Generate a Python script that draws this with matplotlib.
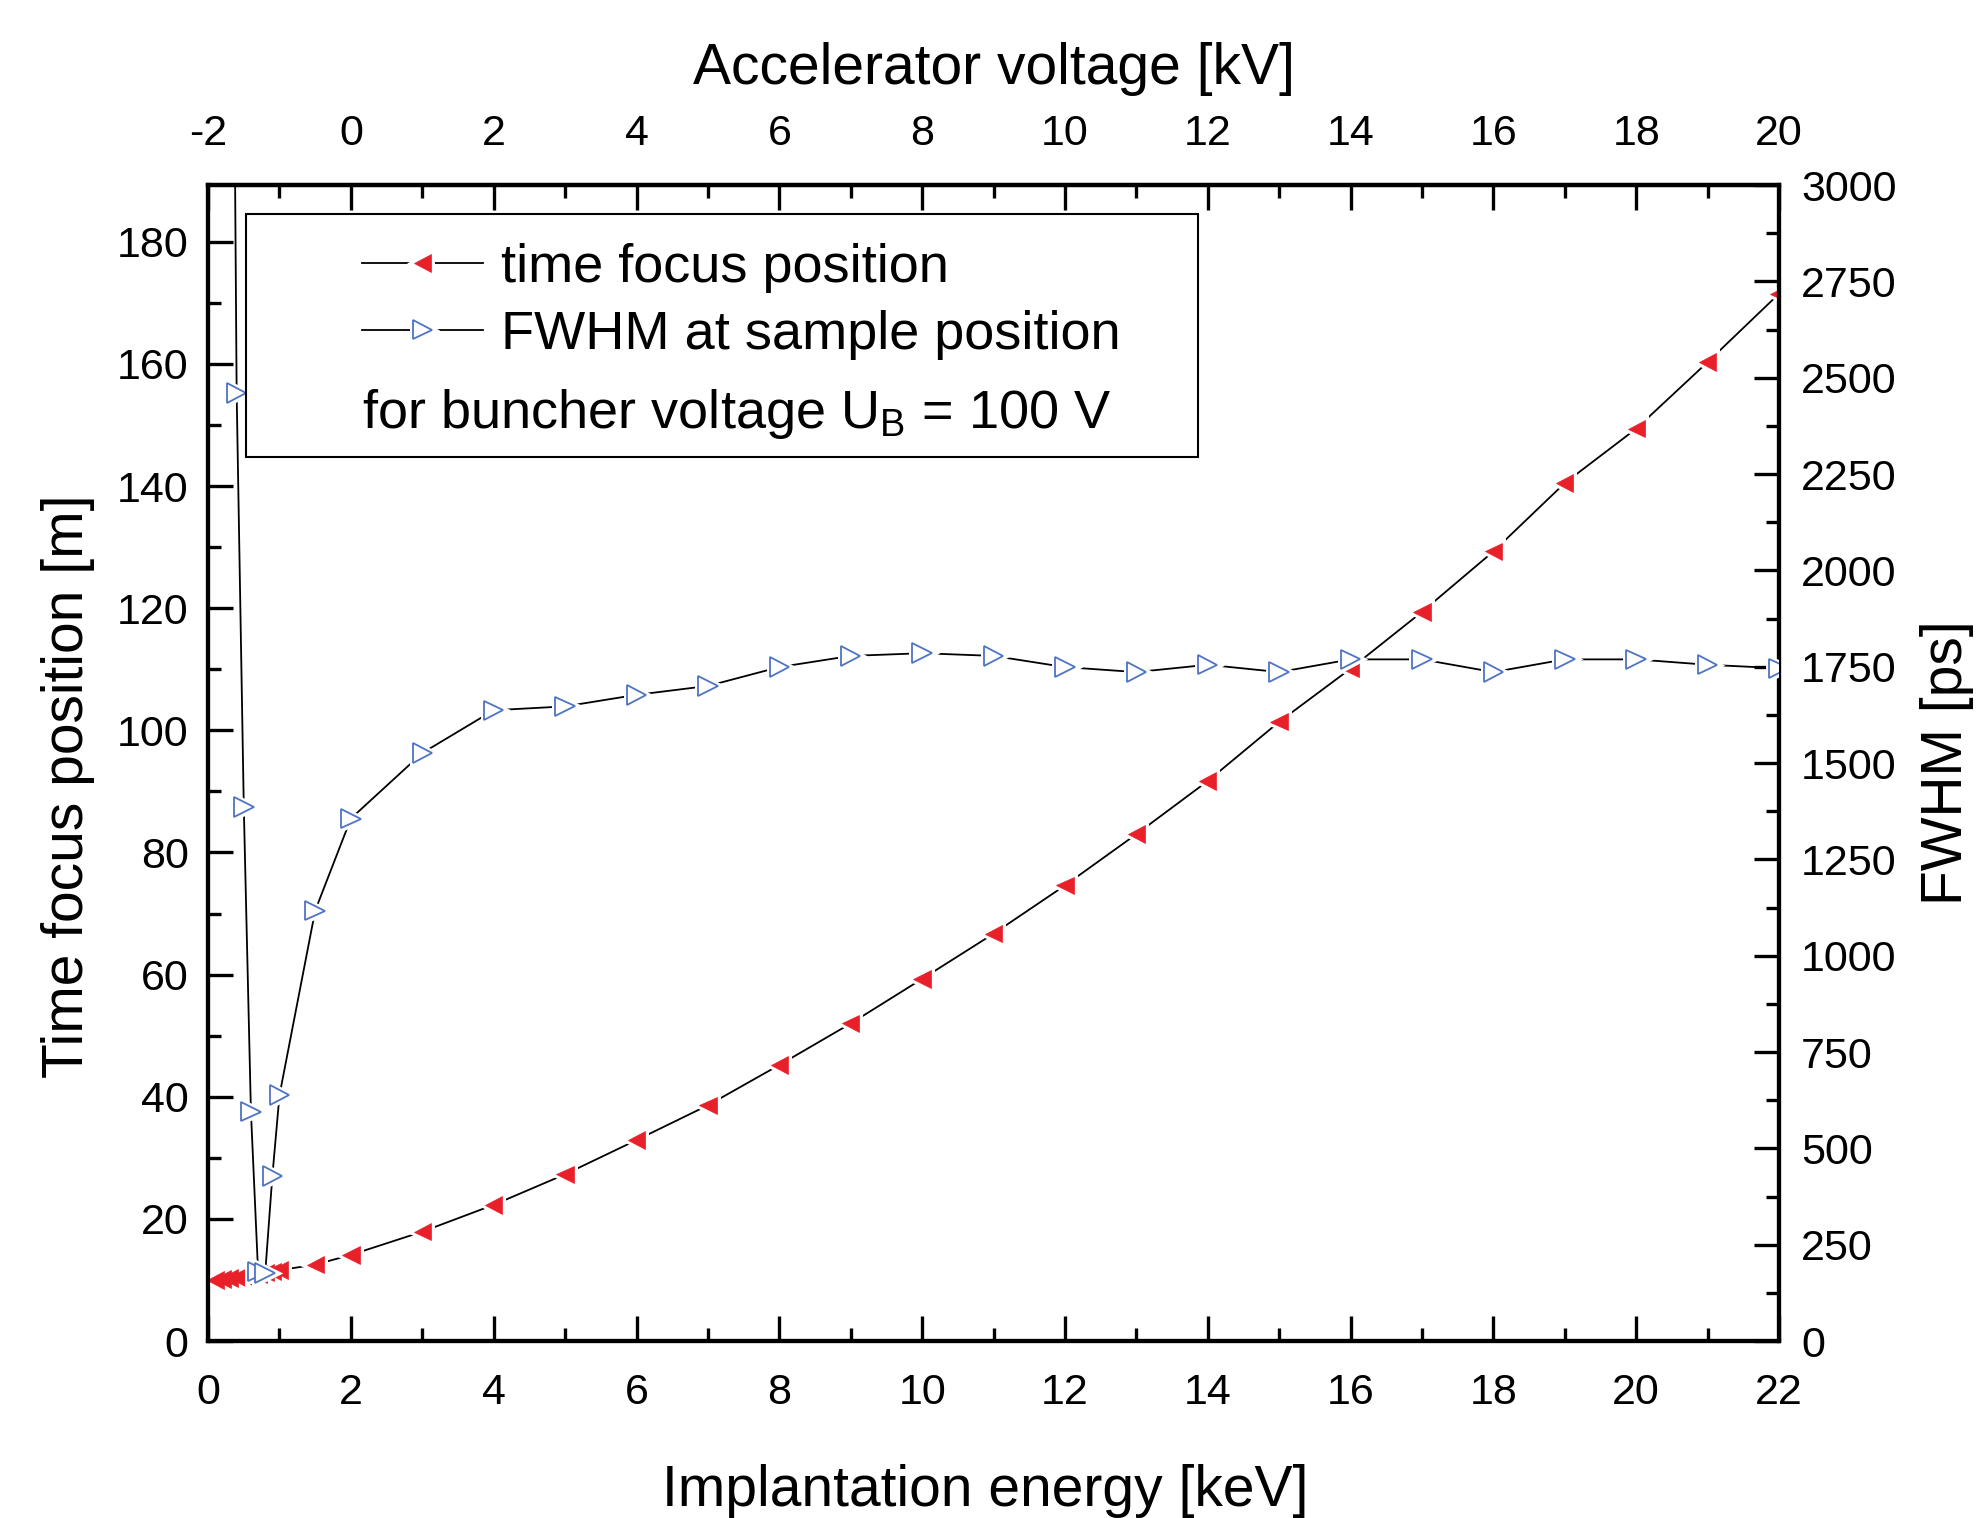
import matplotlib
matplotlib.use("Agg")
import matplotlib.pyplot as plt
from matplotlib.ticker import MultipleLocator
from matplotlib.patches import Rectangle
from matplotlib.legend_handler import HandlerTuple
import matplotlib.patheffects as pe

# ---------------- data ----------------
energy_tf = [0.1, 0.2, 0.3, 0.4, 0.5, 0.6, 0.7, 0.8, 0.9, 1.0, 1.5, 2, 3, 4, 5, 6, 7, 8,
             9, 10, 11, 12, 13, 14, 15, 16, 17, 18, 19, 20, 21, 22]
time_focus = [10.0, 10.15, 10.3, 10.45, 10.6, 10.8, 11.0, 11.2, 11.4, 11.6, 12.5, 14.1,
              17.9, 22.3, 27.3, 32.9, 38.6, 45.2, 52.0, 59.3, 66.7, 74.6, 83.0, 91.7,
              101.4, 110.1, 119.4, 129.3, 140.5, 149.4, 160.3, 171.5]

energy_fw = [0.3, 0.4, 0.5, 0.6, 0.7, 0.8, 0.9, 1.0, 1.5, 2, 3, 4, 5, 6, 7, 8, 9, 10,
             11, 12, 13, 14, 15, 16, 17, 18, 19, 20, 21, 22]
fwhm = [5000, 2460, 1386, 595, 180, 176, 428, 638, 1117, 1356, 1526, 1637, 1647, 1677,
        1700, 1749, 1778, 1785, 1778, 1749, 1736, 1755, 1736, 1769, 1769, 1736, 1769,
        1769, 1755, 1746]

xlabel = "Implantation energy [keV]"
toplabel = "Accelerator voltage [kV]"
ylabel_left = "Time focus position [m]"
ylabel_right = "FWHM [ps]"
legend_labels = ["time focus position", "FWHM at sample position"]
note = "for buncher voltage U$_\\mathrm{B}$ = 100 V"

# ---------------- style ----------------
plt.rcParams['font.family'] = ['Liberation Sans', 'DejaVu Sans']
plt.rcParams['mathtext.fontset'] = 'custom'
plt.rcParams['mathtext.rm'] = 'Liberation Sans'
plt.rcParams['mathtext.it'] = 'Liberation Sans:italic'
plt.rcParams['axes.unicode_minus'] = False

RED = '#e8202a'
BLUE = '#4f74c4'
TICK_FS = 31
LABEL_FS = 41
LEG_FS = 39
halo = [pe.Stroke(linewidth=5, foreground='white'), pe.Normal()]

fig = plt.figure(figsize=(19.78, 15.18), dpi=100)
ax = fig.add_axes([0.1052, 0.1166, 0.7942, 0.7615])

tf_line, = ax.plot(energy_tf, time_focus, color='black', lw=1.3, zorder=3)
tf_mark, = ax.plot(energy_tf, time_focus, ls='none', marker='<', ms=12.5,
                   mfc=RED, mec=RED, mew=0.5, zorder=4, path_effects=halo)
ax.set_xlim(0, 22)
ax.set_ylim(0, 189.3)

ax2 = ax.twinx()
fw_line, = ax2.plot(energy_fw, fwhm, color='black', lw=1.3, zorder=3)
fw_mark, = ax2.plot(energy_fw, fwhm, ls='none', marker='>', ms=14,
                    mfc='white', mec=BLUE, mew=1.3, zorder=4, path_effects=halo)
ax2.set_ylim(0, 3000)

# ticks
ax.xaxis.set_major_locator(MultipleLocator(2))
ax.xaxis.set_minor_locator(MultipleLocator(1))
ax.yaxis.set_major_locator(MultipleLocator(20))
ax.yaxis.set_minor_locator(MultipleLocator(10))
ax2.yaxis.set_major_locator(MultipleLocator(250))
ax2.yaxis.set_minor_locator(MultipleLocator(125))

for a in (ax, ax2):
    for s in a.spines.values():
        s.set_linewidth(3)
    a.tick_params(which='major', direction='in', length=18, width=2.4, labelsize=TICK_FS)
    a.tick_params(which='minor', direction='in', length=9.5, width=2.4)

ax.tick_params(axis='x', which='both', top=False, pad=23)
ax.tick_params(axis='y', which='both', right=False, pad=14)
ax2.tick_params(axis='y', which='both', pad=16)

sec = ax.secondary_xaxis('top', functions=(lambda e: e - 2, lambda v: v + 2))
sec.xaxis.set_major_locator(MultipleLocator(2))
sec.xaxis.set_minor_locator(MultipleLocator(1))
sec.tick_params(which='major', direction='in', length=18, width=2.4, labelsize=TICK_FS, pad=22)
sec.tick_params(which='minor', direction='in', length=9.5, width=2.4)
sec.spines['top'].set_linewidth(3)

# labels
ax.set_xlabel(xlabel, fontsize=LABEL_FS)
ax.xaxis.set_label_coords(0.4946, -0.106)
ax.set_ylabel(ylabel_left, fontsize=LABEL_FS)
ax.yaxis.set_label_coords(-0.072, 0.48)
ax2.set_ylabel(ylabel_right, fontsize=LABEL_FS)
ax2.yaxis.set_label_coords(1.090, 0.5)
sec.set_xlabel(toplabel, fontsize=LABEL_FS, labelpad=22)

# legend
leg = ax2.legend([(tf_line, tf_mark), (fw_line, fw_mark)], legend_labels,
                 handler_map={tuple: HandlerTuple(ndivide=1, pad=0)},
                 loc='upper left', bbox_to_anchor=(0.098, 0.950),
                 frameon=False, fontsize=LEG_FS, handlelength=2.24, handletextpad=0.33,
                 labelspacing=0.31, borderpad=0, borderaxespad=0, numpoints=1)
ax2.text(0.098, 0.802, note, transform=ax2.transAxes, fontsize=LEG_FS, va='center', ha='left')
ax2.add_patch(Rectangle((0.0242, 0.765), 0.6058, 0.21, transform=ax2.transAxes,
                        fill=False, ec='black', lw=1.5, zorder=5))

fig.savefig('out.png', dpi=100)
